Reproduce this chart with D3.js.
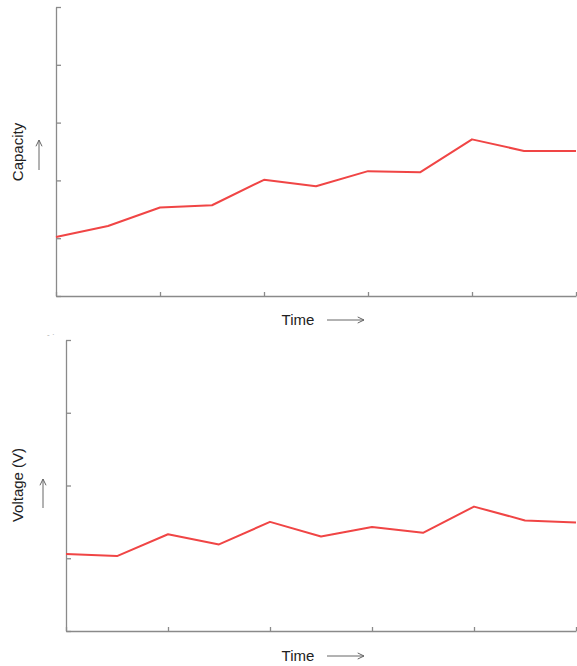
<!DOCTYPE html>
<html>
<head>
<meta charset="utf-8">
<script src="https://cdn.jsdelivr.net/npm/d3@7"></script>
<style>
  html, body { margin: 0; padding: 0; background: #fff; }
  svg { display: block; }
  text { font-family: "Liberation Sans", Arial, sans-serif; fill: #222; }
</style>
</head>
<body>
<svg id="chart" width="577" height="666"></svg>
<script>
// Sample index along the time axis
const timeSteps = [0, 1, 2, 3, 4, 5, 6, 7, 8, 9, 10];
// Capacity (arbitrary units) per time step
const capacityValues = [1.02, 1.21, 1.53, 1.57, 2.01, 1.90, 2.16, 2.14, 2.71, 2.51, 2.51];
// Voltage (V, arbitrary units) per time step
const voltageValues = [1.06, 1.03, 1.33, 1.19, 1.50, 1.30, 1.43, 1.35, 1.71, 1.52, 1.49];
// Tick positions
const timeTicks = [0, 2, 4, 6, 8, 10];
const capacityTicks = [0, 1, 2, 3, 4, 5];
const voltageTicks = [0, 1, 2, 3, 4];

const svg = d3.select("#chart");
const axisColor = "#8a8a8a";
const lineColor = "#f04545";

function drawArrow(g, x1, y1, x2, y2) {
  const ang = Math.atan2(y2 - y1, x2 - x1);
  const h = 7, spread = Math.PI / 7;
  const p1 = [x2 - h * Math.cos(ang - spread), y2 - h * Math.sin(ang - spread)];
  const p2 = [x2 - h * Math.cos(ang + spread), y2 - h * Math.sin(ang + spread)];
  g.append("path")
    .attr("d", `M${x1},${y1}L${x2},${y2}M${p1[0]},${p1[1]}L${x2},${y2}L${p2[0]},${p2[1]}`)
    .attr("fill", "none").attr("stroke", "#666").attr("stroke-width", 1);
}

function panel(cfg) {
  const x = d3.scaleLinear().domain([0, 10]).range([cfg.left, cfg.right]);
  const y = d3.scaleLinear().domain([0, cfg.yMax]).range([cfg.bottom, cfg.top]);
  const g = svg.append("g");

  const xAxis = g.append("g")
    .attr("transform", `translate(0,${cfg.bottom})`)
    .call(d3.axisBottom(x).tickValues(timeTicks).tickSizeInner(-4).tickSizeOuter(0).tickFormat(""));
  const yAxis = g.append("g")
    .attr("transform", `translate(${cfg.left},0)`)
    .call(d3.axisLeft(y).tickValues(cfg.yTicks).tickSizeInner(-5).tickSizeOuter(0).tickFormat(""));
  [xAxis, yAxis].forEach(a => {
    a.selectAll("path, line").attr("stroke", axisColor).attr("stroke-width", 1.3);
  });

  const line = d3.line().x((d, i) => x(timeSteps[i])).y(d => y(d));
  g.append("path")
    .datum(cfg.values)
    .attr("d", line)
    .attr("fill", "none")
    .attr("stroke", lineColor)
    .attr("stroke-width", 2)
    .attr("stroke-linejoin", "round");

  // y-axis title with an upward arrow
  g.append("text")
    .attr("transform", `translate(${cfg.yLabelX},${cfg.yLabelY}) rotate(-90)`)
    .attr("text-anchor", "middle")
    .attr("font-size", 15)
    .text(cfg.yLabel);
  drawArrow(g, cfg.yArrowX, cfg.yArrowY1, cfg.yArrowX, cfg.yArrowY2);

  // x-axis title with a rightward arrow
  g.append("text")
    .attr("x", 298).attr("y", cfg.xLabelY)
    .attr("text-anchor", "middle")
    .attr("font-size", 15)
    .text("Time");
  drawArrow(g, 327, cfg.xLabelY - 5, 364, cfg.xLabelY - 5);
}

panel({
  left: 56, right: 576, top: 7, bottom: 296, yMax: 5,
  yTicks: capacityTicks, values: capacityValues,
  yLabel: "Capacity", yLabelX: 23, yLabelY: 152,
  yArrowX: 39, yArrowY1: 170, yArrowY2: 140,
  xLabelY: 325
});

panel({
  left: 66, right: 576, top: 340, bottom: 631, yMax: 4,
  yTicks: voltageTicks, values: voltageValues,
  yLabel: "Voltage (V)", yLabelX: 23, yLabelY: 485,
  yArrowX: 43, yArrowY1: 508, yArrowY2: 479,
  xLabelY: 661
});

// small stray mark above the lower panel
svg.append("text").attr("x", 47).attr("y", 337)
  .attr("font-size", 8).style("fill", "#aaa").text("- ·");
</script>
</body>
</html>
